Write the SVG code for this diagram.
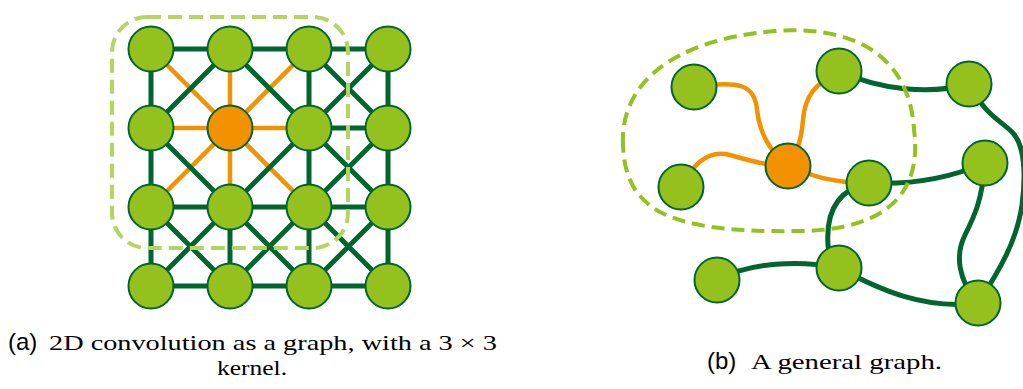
<svg xmlns="http://www.w3.org/2000/svg" width="1023" height="389" viewBox="0 0 1023 389">
<style>
.n{fill:#95c11f;stroke:#00652e;stroke-width:2}
.c{fill:#f39200;stroke:#00652e;stroke-width:2}
.g{stroke:#00652e;stroke-width:5;fill:none;stroke-linecap:butt}
.o{stroke:#f39200;stroke-width:4.5;fill:none}
.dl{fill:none;stroke:#b5d462;stroke-width:4;stroke-dasharray:14 7}
.dr{fill:none;stroke:#95c11f;stroke-width:4;stroke-dasharray:13 7}
.sans{font-family:"Liberation Sans",Arial,sans-serif;font-size:24px;fill:#000}
.serif{font-family:"Liberation Serif","Times New Roman",serif;font-size:22px;fill:#000}
</style>
<rect width="1023" height="389" fill="#fff"/>
<g id="connectors">
<g id="grid-edges">
<path class="o" d="M151,128H309M230,49V207M151,49L309,207M309,49L151,207"/>
<path class="g" d="M151,49H388M309,128H388M151,207H388M151,286H388M151,49V286M309,49V286M388,49V286M230,207V286M230,49L388,207M309,49L388,128M151,128L309,286M151,207L230,286M309,207L388,286M230,49L151,128M388,49L230,207M388,128L230,286M230,207L151,286M388,207L309,286"/>
</g>
<g id="graph-edges">
<path class="o" d="M694,87C740,80 755,85 757,110C760,135 770,150 787,166"/>
<path class="o" d="M838,71C815,85 805,95 803,120C801,145 795,155 788,166"/>
<path class="o" d="M681,187C690,170 705,148 730,155C755,162 765,165 788,166"/>
<path class="o" d="M788,166C810,175 830,183 869,183"/>
<path class="g" d="M839,71C880,90 930,95 969,84"/>
<path class="g" d="M869,183C910,185 950,178 985,163"/>
<path class="g" d="M985,163C982,200 975,215 965,235C955,255 958,280 978,303"/>
<path class="g" d="M869,183C835,190 826,215 828,245C829,258 833,263 839,268"/>
<path class="g" d="M717,280C750,262 800,260 839,268"/>
<path class="g" d="M839,268C880,290 925,310 978,303"/>
<path class="g" d="M969,84C985,115 1000,120 1012,132C1025,145 1026,175 1022,205C1017,240 1000,270 978,303"/>
</g>
</g>
<g id="kernel-region"><rect class="dl" x="112" y="17" width="236" height="231" rx="35"/></g>
<g id="neighbourhood"><path class="dr" d="M623,145C620,85 670,40 775,31C860,25 910,60 914,130C922,190 890,230 800,231C740,232 690,228 660,212C630,195 624,170 623,145Z"/></g>
<g id="grid-nodes">
<g id="g00"><circle class="n" cx="151" cy="49" r="22.5"/></g>
<g id="g10"><circle class="n" cx="230" cy="49" r="22.5"/></g>
<g id="g20"><circle class="n" cx="309" cy="49" r="22.5"/></g>
<g id="g30"><circle class="n" cx="388" cy="49" r="22.5"/></g>
<g id="g01"><circle class="n" cx="151" cy="128" r="22.5"/></g>
<g id="g11"><circle class="c" cx="230" cy="128" r="22.5"/></g>
<g id="g21"><circle class="n" cx="309" cy="128" r="22.5"/></g>
<g id="g31"><circle class="n" cx="388" cy="128" r="22.5"/></g>
<g id="g02"><circle class="n" cx="151" cy="207" r="22.5"/></g>
<g id="g12"><circle class="n" cx="230" cy="207" r="22.5"/></g>
<g id="g22"><circle class="n" cx="309" cy="207" r="22.5"/></g>
<g id="g32"><circle class="n" cx="388" cy="207" r="22.5"/></g>
<g id="g03"><circle class="n" cx="151" cy="286" r="22.5"/></g>
<g id="g13"><circle class="n" cx="230" cy="286" r="22.5"/></g>
<g id="g23"><circle class="n" cx="309" cy="286" r="22.5"/></g>
<g id="g33"><circle class="n" cx="388" cy="286" r="22.5"/></g>
</g>
<g id="graph-nodes">
<g id="nA"><circle class="n" cx="694" cy="87" r="22.5"/></g>
<g id="nB"><circle class="n" cx="839" cy="71" r="22.5"/></g>
<g id="nC"><circle class="n" cx="969" cy="84" r="22.5"/></g>
<g id="nD"><circle class="c" cx="788" cy="166" r="22.5"/></g>
<g id="nE"><circle class="n" cx="681" cy="187" r="22.5"/></g>
<g id="nF"><circle class="n" cx="869" cy="183" r="22.5"/></g>
<g id="nG"><circle class="n" cx="985" cy="163" r="22.5"/></g>
<g id="nH"><circle class="n" cx="717" cy="280" r="22.5"/></g>
<g id="nI"><circle class="n" cx="839" cy="268" r="22.5"/></g>
<g id="nJ"><circle class="n" cx="978" cy="303" r="22.5"/></g>
</g>
<g id="captions">
<text class="sans" x="8" y="350">(a)</text>
<text class="serif" x="49" y="350" textLength="448" lengthAdjust="spacingAndGlyphs">2D convolution as a graph, with a 3 × 3</text>
<text class="serif" x="217" y="375" textLength="70" lengthAdjust="spacingAndGlyphs">kernel.</text>
<text class="sans" x="707" y="369">(b)</text>
<text class="serif" x="751" y="369" textLength="191" lengthAdjust="spacingAndGlyphs">A general graph.</text>
</g>
</svg>
